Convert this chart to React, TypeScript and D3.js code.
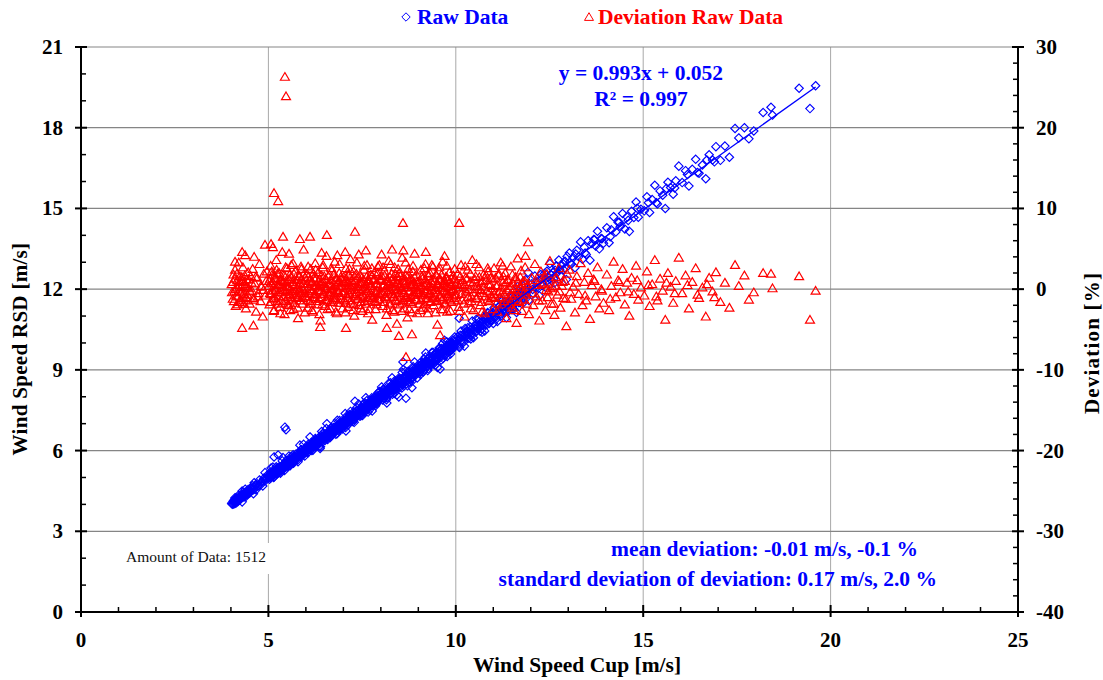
import React from "react";
import * as d3 from "d3";

// [cup wind speed m/s, deviation %] ; RSD speed = cup * (1 + dev/100)
const bin4: [number, number][] = [
  [4.02,0.6],[4.05,-1.2],[4.07,1.8],[4.09,-0.3],[4.11,2.4],[4.13,-2.1],[4.15,0.2],[4.17,1.1],[4.19,-0.9],[4.21,3.3],
  [4.23,-1.6],[4.25,0.9],[4.27,-0.4],[4.29,1.5],[4.30,-4.8],[4.32,2.7],[4.34,-1.1],[4.36,0.4],[4.38,4.2],[4.40,-2.4],
  [4.42,1.2],[4.44,-0.7],[4.46,2.1],[4.48,0.1],[4.50,-1.8],[4.53,1.6],[4.56,-0.2],[4.58,2.5],[4.61,-1.3],[4.64,0.7],
  [4.67,-2.8],[4.70,1.4],[4.73,-0.5],[4.76,3.1],[4.79,-1.5],[4.82,0.3],[4.85,-3.4],[4.88,1.9],[4.92,-0.8],[4.96,2.2],
];
const core4: [number, number][] = [
  [4.03,-0.4],[4.06,0.9],[4.08,-1.5],[4.10,1.3],[4.12,0.0],[4.14,-0.8],[4.16,1.9],[4.18,-1.9],[4.20,0.5],[4.22,-0.2],
  [4.24,1.6],[4.26,-1.3],[4.28,0.3],[4.31,1.0],[4.33,-0.6],[4.35,-1.8],[4.37,1.7],[4.39,0.6],[4.41,-1.0],[4.43,0.2],
  [4.45,-1.4],[4.47,1.2],[4.51,-0.3],[4.55,0.8],[4.60,-1.1],[4.66,1.5],[4.72,-0.9],[4.80,0.4],[4.87,-0.1],[4.94,1.0],
];
const bin5: [number, number][] = [
  [5.01,0.4],[5.03,-1.9],[5.05,1.3],[5.07,-0.6],[5.09,2.2],[5.11,-1.2],[5.13,0.8],[5.15,-2.6],[5.17,1.7],[5.19,-0.1],
  [5.21,3.6],[5.23,-1.5],[5.25,0.5],[5.27,-0.9],[5.29,2.0],[5.31,-2.2],[5.33,1.1],[5.35,-0.4],[5.37,4.6],[5.39,-1.7],
  [5.41,0.9],[5.43,-3.1],[5.45,1.5],[5.47,-0.3],[5.49,2.6],[5.51,-1.0],[5.53,0.2],[5.55,-2.0],[5.57,1.8],[5.59,-0.7],
  [5.61,3.0],[5.63,-1.4],[5.65,0.6],[5.67,-2.5],[5.69,1.2],[5.71,-0.2],[5.73,2.3],[5.75,-1.1],[5.77,0.0],[5.79,-3.6],
  [5.81,1.6],[5.84,-0.8],[5.87,2.8],[5.90,-1.8],[5.93,0.7],[5.96,-0.5],[5.98,1.4],
];
const core5: [number, number][] = [
  [5.02,1.0],[5.04,-0.5],[5.06,-1.6],[5.08,0.7],[5.10,1.8],[5.12,-0.2],[5.14,0.3],[5.16,-1.1],[5.18,1.4],[5.20,-0.8],
  [5.22,0.1],[5.24,1.9],[5.26,-1.8],[5.28,0.6],[5.30,-0.4],[5.32,1.3],[5.34,-1.3],[5.36,0.2],[5.38,1.0],[5.40,-0.9],
  [5.42,1.7],[5.44,-0.1],[5.46,-1.5],[5.48,0.8],[5.50,0.4],[5.52,-1.9],[5.54,1.2],[5.56,-0.6],[5.58,0.0],[5.60,1.5],
  [5.62,-1.2],[5.64,0.9],[5.66,-0.3],[5.68,1.9],[5.70,-1.7],[5.72,0.5],[5.74,-0.7],[5.76,1.1],[5.78,-1.0],[5.80,0.3],
  [5.82,-0.2],[5.83,1.6],[5.85,-1.4],[5.86,0.7],[5.88,-0.5],[5.89,1.2],[5.91,0.1],[5.92,-1.1],[5.94,1.8],[5.97,-0.9],
];
const bin6: [number, number][] = [
  [6.01,-0.9],[6.03,1.9],[6.05,-2.3],[6.07,0.3],[6.09,1.0],[6.11,-1.5],[6.13,2.5],[6.15,-0.2],[6.17,0.9],[6.19,-2.8],
  [6.21,1.4],[6.23,-0.6],[6.25,3.2],[6.27,-1.2],[6.29,0.5],[6.31,-1.9],[6.33,2.1],[6.35,-0.1],[6.37,1.2],[6.39,-3.9],
  [6.41,0.8],[6.43,-1.0],[6.45,2.7],[6.47,-0.4],[6.49,1.6],[6.51,-2.1],[6.53,0.1],[6.55,4.1],[6.57,-1.3],[6.59,0.6],
  [6.61,-0.7],[6.63,1.8],[6.65,-2.4],[6.67,0.4],[6.69,2.3],[6.71,-1.6],[6.73,0.2],[6.75,-0.8],[6.77,3.4],[6.79,-1.1],
  [6.81,1.1],[6.83,-3.0],[6.85,0.7],[6.87,-0.3],[6.89,2.0],[6.92,-1.7],[6.95,1.3],[6.98,-0.5],
];
const core6: [number, number][] = [
  [6.02,0.6],[6.04,-1.3],[6.06,1.5],[6.08,-0.5],[6.10,0.0],[6.12,1.2],[6.14,-1.8],[6.16,0.8],[6.18,-0.3],[6.20,1.9],
  [6.22,-1.0],[6.24,0.4],[6.26,-0.7],[6.28,1.4],[6.30,-1.5],[6.32,0.2],[6.34,1.0],[6.36,-1.2],[6.38,0.6],[6.40,-0.2],
  [6.42,1.7],[6.44,-1.9],[6.46,0.9],[6.48,-0.6],[6.50,0.3],[6.52,1.3],[6.54,-1.4],[6.56,0.1],[6.58,-0.9],[6.60,1.6],
  [6.62,-0.4],[6.64,0.7],[6.66,-1.6],[6.68,1.1],[6.70,0.0],[6.72,-1.1],[6.74,1.8],[6.76,-0.5],[6.78,0.5],[6.80,-1.3],
  [6.82,1.4],[6.84,-0.1],[6.86,-1.7],[6.88,0.9],[6.90,0.2],[6.91,-0.8],[6.93,1.5],[6.94,-1.2],[6.96,0.4],[6.99,1.0],
];
const bin7: [number, number][] = [
  [7.01,1.5],[7.03,-1.4],[7.05,0.2],[7.07,2.6],[7.09,-0.8],[7.11,0.9],[7.13,-2.2],[7.15,1.7],[7.17,-0.1],[7.19,3.7],
  [7.21,-1.8],[7.23,0.5],[7.25,-0.6],[7.27,2.2],[7.29,-3.3],[7.31,1.0],[7.33,-0.4],[7.35,1.9],[7.37,-1.2],[7.39,0.3],
  [7.41,4.3],[7.43,-2.0],[7.45,0.8],[7.47,-0.9],[7.49,1.4],[7.51,-2.7],[7.53,0.0],[7.55,2.4],[7.57,-1.5],[7.59,0.6],
  [7.61,-0.2],[7.63,3.0],[7.65,-1.1],[7.67,1.2],[7.69,-2.5],[7.71,0.4],[7.73,1.8],[7.75,-0.7],[7.77,-3.8],[7.79,1.1],
  [7.81,-1.6],[7.83,2.1],[7.85,-0.3],[7.87,0.7],[7.89,-1.9],[7.92,2.8],[7.95,-0.5],[7.98,1.3],
];
const core7: [number, number][] = [
  [7.02,-0.3],[7.04,0.8],[7.06,-1.7],[7.08,1.3],[7.10,0.1],[7.12,-1.1],[7.14,1.9],[7.16,-0.6],[7.18,0.5],[7.20,-1.4],
  [7.22,1.1],[7.24,-0.1],[7.26,0.7],[7.28,-1.9],[7.30,1.6],[7.32,-0.8],[7.34,0.3],[7.36,-0.4],[7.38,1.4],[7.40,-1.2],
  [7.42,0.6],[7.44,1.8],[7.46,-1.6],[7.48,0.0],[7.50,0.9],[7.52,-0.7],[7.54,1.2],[7.56,-1.0],[7.58,0.2],[7.60,-1.8],
  [7.62,1.5],[7.64,-0.3],[7.66,0.8],[7.68,-1.3],[7.70,1.0],[7.72,-0.5],[7.74,0.4],[7.76,1.7],[7.78,-1.1],[7.80,0.1],
  [7.82,-0.9],[7.84,1.3],[7.86,-1.5],[7.88,0.6],[7.90,-0.2],[7.91,1.9],[7.93,-1.2],[7.94,0.3],[7.96,-0.7],[7.99,1.1],
];
const bin8: [number, number][] = [
  [8.01,-0.6],[8.03,1.6],[8.05,-2.1],[8.07,0.4],[8.09,2.3],[8.11,-1.0],[8.13,0.1],[8.15,-3.2],[8.17,1.3],[8.19,-0.4],
  [8.21,3.5],[8.23,-1.7],[8.25,0.7],[8.27,-0.2],[8.29,1.9],[8.31,-2.6],[8.33,0.9],[8.35,-0.8],[8.37,2.7],[8.39,-1.3],
  [8.41,0.3],[8.43,-4.3],[8.45,1.5],[8.47,-0.5],[8.49,2.0],[8.51,-1.9],[8.53,0.6],[8.55,-0.1],[8.57,3.9],[8.59,-1.4],
  [8.61,1.0],[8.63,-2.4],[8.65,0.2],[8.67,1.7],[8.69,-0.9],[8.71,-3.5],[8.73,2.5],[8.75,-0.3],[8.77,1.2],[8.79,-1.6],
  [8.81,0.5],[8.83,-2.9],[8.85,2.2],[8.87,-0.7],[8.89,0.8],[8.92,-1.2],[8.95,1.8],[8.98,-0.4],
];
const core8: [number, number][] = [
  [8.02,1.2],[8.04,-0.4],[8.06,0.5],[8.08,-1.6],[8.10,1.7],[8.12,-0.9],[8.14,0.2],[8.16,1.0],[8.18,-1.2],[8.20,0.6],
  [8.22,-0.1],[8.24,1.5],[8.26,-1.9],[8.28,0.3],[8.30,-0.6],[8.32,1.3],[8.34,-1.0],[8.36,0.0],[8.38,1.9],[8.40,-1.5],
  [8.42,0.8],[8.44,-0.3],[8.46,1.1],[8.48,-1.3],[8.50,0.4],[8.52,1.6],[8.54,-0.8],[8.56,0.1],[8.58,-1.7],[8.60,1.4],
  [8.62,-0.5],[8.64,0.7],[8.66,-1.1],[8.68,1.0],[8.70,0.2],[8.72,-1.4],[8.74,1.8],[8.76,-0.2],[8.78,0.5],[8.80,-1.0],
  [8.82,1.2],[8.84,-1.8],[8.86,0.6],[8.88,-0.4],[8.90,1.5],[8.91,-0.7],[8.93,0.3],[8.94,-1.3],[8.96,0.9],[8.99,-0.1],
];
const bin9: [number, number][] = [
  [9.01,0.9],[9.03,-1.8],[9.05,0.1],[9.07,2.4],[9.09,-0.7],[9.11,1.3],[9.13,-2.3],[9.15,0.5],[9.17,-0.2],[9.19,3.1],
  [9.21,-1.1],[9.23,0.7],[9.25,-3.0],[9.27,1.6],[9.29,-0.5],[9.31,2.0],[9.33,-1.5],[9.35,0.3],[9.37,-0.9],[9.39,2.8],
  [9.41,-2.0],[9.43,1.0],[9.45,-0.1],[9.47,1.8],[9.49,-1.3],[9.51,-4.4],[9.53,0.6],[9.55,2.3],[9.57,-0.8],[9.59,1.2],
  [9.61,-2.5],[9.63,0.2],[9.65,3.4],[9.67,-1.0],[9.69,0.8],[9.71,-1.7],[9.73,1.5],[9.75,-0.4],[9.77,-2.8],[9.79,1.1],
  [9.81,-0.6],[9.83,2.1],[9.85,-1.4],[9.87,0.4],[9.90,-0.2],[9.93,1.7],[9.96,-1.1],[9.99,0.5],
];
const core9: [number, number][] = [
  [9.02,-0.5],[9.04,1.1],[9.06,-1.4],[9.08,0.3],[9.10,1.6],[9.12,-0.8],[9.14,0.0],[9.16,-1.9],[9.18,1.2],[9.20,-0.3],
  [9.22,0.8],[9.24,-1.2],[9.26,1.9],[9.28,-0.6],[9.30,0.4],[9.32,-1.6],[9.34,1.0],[9.36,-0.1],[9.38,0.6],[9.40,-1.1],
  [9.42,1.4],[9.44,-0.7],[9.46,0.2],[9.48,1.7],[9.50,-1.5],[9.52,0.5],[9.54,-0.4],[9.56,1.3],[9.58,-1.0],[9.60,0.1],
  [9.62,1.8],[9.64,-1.3],[9.66,0.7],[9.68,-0.2],[9.70,1.0],[9.72,-1.8],[9.74,0.4],[9.76,1.5],[9.78,-0.6],[9.80,0.2],
  [9.82,-1.2],[9.84,0.9],[9.86,-0.3],[9.88,1.3],[9.89,-1.6],[9.91,0.6],[9.92,-0.9],[9.94,0.0],[9.95,1.2],[9.98,-0.7],
];
const mid5to12: [number, number][] = [
  [5.06,2.9],[5.14,-2.7],[5.22,2.4],[5.32,-3.0],[5.46,2.7],[5.58,-2.6],[5.66,3.2],[5.78,-2.3],[5.88,2.5],[5.97,-2.9],
  [6.06,2.8],[6.16,-2.6],[6.26,2.4],[6.36,-3.1],[6.46,3.0],[6.58,-2.5],[6.68,2.6],[6.80,-2.8],[6.90,3.1],[6.97,-2.4],
  [7.06,-2.9],[7.16,2.5],[7.26,-2.6],[7.36,3.3],[7.46,-2.4],[7.56,2.9],[7.66,-3.0],[7.76,2.6],[7.86,-2.5],[7.96,3.0],
  [8.06,2.7],[8.16,-2.4],[8.26,3.1],[8.36,-2.8],[8.46,2.5],[8.56,-2.7],[8.66,3.3],[8.76,-2.5],[8.86,2.9],[8.97,-3.0],
  [9.06,-2.6],[9.16,2.6],[9.26,-2.4],[9.36,3.0],[9.46,-2.9],[9.56,2.7],[9.66,-2.5],[9.76,2.9],[9.86,-2.7],[9.97,2.5],
  [10.10,-2.7],[10.25,2.8],[10.40,-2.4],[10.55,3.1],[10.70,-2.8],[10.85,2.6],[11.00,-2.5],[11.25,2.9],[11.55,-2.6],[11.85,2.7],
];
const bin10: [number, number][] = [
  [10.02,-0.7],[10.05,1.9],[10.08,-2.2],[10.11,0.6],[10.14,3.0],[10.17,-1.3],[10.20,0.2],[10.23,-3.4],[10.26,1.4],[10.29,-0.4],
  [10.32,2.4],[10.35,-1.7],[10.38,0.9],[10.41,-0.9],[10.44,3.6],[10.47,-2.6],[10.50,0.3],[10.53,1.6],[10.56,-1.1],[10.59,0.0],
  [10.62,2.7],[10.65,-2.0],[10.68,0.8],[10.71,-0.5],[10.74,1.8],[10.77,-3.0],[10.80,1.1],[10.83,-0.2],[10.86,2.2],[10.89,-1.5],
  [10.92,0.5],[10.95,-0.8],[10.98,1.3],
];
const core10: [number, number][] = [
  [10.03,0.8],[10.06,-1.4],[10.09,0.2],[10.12,1.6],[10.15,-0.6],[10.18,1.1],[10.21,-1.8],[10.24,0.5],[10.27,-0.2],[10.30,1.3],
  [10.33,-1.0],[10.36,0.0],[10.39,1.9],[10.42,-1.5],[10.45,0.7],[10.48,-0.4],[10.51,1.2],[10.54,-1.2],[10.57,0.4],[10.60,-0.8],
  [10.63,1.5],[10.66,-0.1],[10.69,-1.6],[10.72,1.0],[10.75,0.3],[10.78,-0.9],[10.81,1.7],[10.84,-1.3],[10.87,0.6],[10.90,-0.3],
  [10.93,1.4],[10.96,-1.1],[10.99,0.1],
];
const bin11: [number, number][] = [
  [11.02,2.6],[11.05,-1.0],[11.08,0.4],[11.11,-2.8],[11.14,1.7],[11.17,-0.3],[11.20,3.3],[11.23,-1.9],[11.26,0.9],[11.29,-0.6],
  [11.32,2.0],[11.35,-3.6],[11.38,1.2],[11.41,-1.2],[11.44,0.1],[11.47,2.8],[11.50,-2.3],[11.53,0.7],[11.56,-0.8],[11.59,1.5],
  [11.62,-4.2],[11.65,3.8],[11.68,-1.5],[11.71,0.3],[11.74,2.3],[11.77,-2.7],[11.80,1.0],[11.83,-0.4],[11.86,4.1],[11.89,-1.8],
  [11.92,0.6],[11.95,-3.1],
];
const core11: [number, number][] = [
  [11.03,-0.6],[11.06,1.4],[11.09,-1.7],[11.12,0.5],[11.15,1.9],[11.18,-1.0],[11.21,0.2],[11.24,-0.4],[11.27,1.6],[11.30,-1.5],
  [11.33,0.8],[11.36,-0.1],[11.39,1.1],[11.42,-1.9],[11.45,0.4],[11.48,-0.8],[11.51,1.8],[11.54,-1.2],[11.57,0.0],[11.60,1.3],
  [11.63,-0.5],[11.66,0.9],[11.69,-1.6],[11.72,1.5],[11.75,-0.2],[11.78,0.6],[11.81,-1.3],[11.84,1.0],[11.87,-0.7],[11.90,0.3],
];
const bin12: [number, number][] = [
  [12.03,1.4],[12.07,-2.0],[12.11,3.1],[12.15,-0.9],[12.19,0.5],[12.23,-3.9],[12.27,2.2],[12.31,-1.4],[12.35,0.8],[12.39,-2.6],
  [12.43,1.9],[12.47,-0.3],[12.51,3.5],[12.55,-1.8],[12.59,0.2],[12.63,-3.2],[12.67,1.5],[12.71,-0.7],[12.75,2.6],[12.79,-2.3],
  [12.83,0.4],[12.87,-1.1],[12.91,1.0],[12.95,-4.6],
];
const core12: [number, number][] = [
  [12.05,-0.5],[12.13,1.1],[12.21,-1.4],[12.29,0.6],[12.37,1.7],[12.45,-1.0],[12.53,0.1],[12.61,-1.8],[12.69,1.3],[12.77,-0.3],
  [12.85,0.9],[12.93,-1.2],[12.97,1.9],[12.41,-0.1],[12.65,0.4],
];
const bin13: [number, number][] = [
  [13.03,2.4],[13.08,-1.2],[13.13,0.3],[13.18,-2.9],[13.23,1.6],[13.28,-0.6],[13.33,3.2],[13.38,-2.0],[13.43,0.9],[13.48,-1.4],
  [13.53,2.0],[13.58,-3.7],[13.63,0.5],[13.68,1.2],[13.73,-0.9],[13.78,2.7],[13.83,-2.4],[13.88,0.0],[13.94,-1.7],
];
const bin14: [number, number][] = [
  [14.03,1.8],[14.09,-2.6],[14.15,0.4],[14.21,3.4],[14.27,-1.0],[14.33,1.1],[14.39,-0.4],[14.45,2.5],[14.51,-1.9],[14.57,0.8],
  [14.63,-3.3],[14.69,1.4],[14.75,-0.6],[14.81,2.9],[14.87,-1.3],[14.94,0.2],
];
const bin15: [number, number][] = [
  [15.03,-0.8],[15.10,2.2],[15.17,-2.1],[15.24,0.6],[15.31,3.6],[15.38,-1.4],[15.45,1.3],[15.52,-0.2],[15.59,-3.8],[15.66,2.0],
  [15.73,0.3],[15.80,-1.7],[15.87,1.0],[15.95,3.9],
];
const bin16: [number, number][] = [
  [16.04,-0.5],[16.13,1.7],[16.22,-2.4],[16.31,0.9],[16.40,2.6],[16.49,-1.1],[16.58,0.2],[16.67,-3.4],[16.76,1.4],[16.85,-0.3],
  [16.94,2.1],
];
const core13to16: [number, number][] = [
  [13.05,-0.4],[13.20,0.8],[13.45,-0.8],[13.70,1.0],[13.90,-0.2],[14.12,-1.2],[14.36,0.9],[14.60,-0.3],[14.84,1.1],[15.14,0.5],
  [15.35,-0.9],[15.62,0.8],[15.84,-0.5],[16.18,0.5],[16.45,-0.7],[16.70,0.6],[16.90,-1.0],
];
const bin17: [number, number][] = [
  [17.06,-1.6],[17.18,0.8],[17.30,-2.3],[17.45,3.0],[17.55,0.4],[17.70,1.7],[17.82,-1.3],[17.95,-0.4],
];
const bin18: [number, number][] = [
  [18.20,2.0],[18.41,1.9],[18.45,0.1],[19.16,1.6],[19.45,-3.8],[19.60,-0.2],
];
const outliers: [number, number][] = [
  [5.44,26.3],[5.47,23.9],[5.15,11.9],[5.26,10.9],[5.39,6.5],[5.07,5.6],[6.11,6.5],[6.56,6.7],[7.31,7.1],
  [8.59,8.2],[8.60,4.8],[8.67,-8.4],[10.09,8.2],[11.93,5.8],[4.30,4.6],[4.11,3.4],[4.91,5.5],[5.12,5.2],
  [5.84,6.2],[4.60,-4.5],[6.38,-4.7],[7.07,-4.8],[8.16,-4.8],[8.48,-5.8],[8.83,-5.6],[9.58,-5.7],
  [4.62,4.0],[5.55,4.4],[5.94,4.9],[6.42,4.5],[6.84,4.2],[7.05,4.6],[7.60,4.8],[8.02,4.3],[8.30,4.9],
  [8.90,4.4],[9.20,4.6],[9.70,4.1],
];

const slope = 0.993;
const intercept = 0.052;
const xTicks = [0, 5, 10, 15, 20, 25];
const yLeftTicks = [0, 3, 6, 9, 12, 15, 18, 21];
const yRightTicks = [-40, -30, -20, -10, 0, 10, 20, 30];

const W = 1103, H = 680;
const L = 81, R = 1018, T = 47, B = 612;
const serif = "'Liberation Serif', 'Times New Roman', serif";

export default function App() {
  const all = [
    ...bin4, ...core4, ...bin5, ...core5, ...bin6, ...core6, ...bin7, ...core7, ...bin8, ...core8,
    ...bin9, ...core9, ...mid5to12, ...bin10, ...core10, ...bin11, ...core11, ...bin12, ...core12,
    ...bin13, ...bin14, ...bin15, ...bin16, ...core13to16, ...bin17, ...bin18, ...outliers,
  ];
  const x = d3.scaleLinear().domain([0, 25]).range([L, R]);
  const yL = d3.scaleLinear().domain([0, 21]).range([B, T]);
  const yR = d3.scaleLinear().domain([-40, 30]).range([B, T]);
  const raw = all.map(([c, d]) => [c, c * (1 + d / 100)] as [number, number]);
  const xMin = d3.min(all, (d) => d[0]) as number;
  const xMax = d3.max(all, (d) => d[0]) as number;
  const line = d3.line<number>().x((v) => x(v)).y((v) => yL(slope * v + intercept));
  const diamond = "M0,-4.2L4.2,0L0,4.2L-4.2,0Z";
  const tri = "M0,-4.3L4.5,3.4L-4.5,3.4Z";
  const minorX = d3.range(0, 26, 1).filter((v) => v % 5 !== 0);
  const minorL = d3.range(0, 22, 1).filter((v) => v % 3 !== 0);
  const minorR = d3.range(-40, 31, 2).filter((v) => v % 10 !== 0);
  const big = 21.5;

  return (
    <svg width={W} height={H} style={{ position: "absolute", left: 0, top: 0, background: "#fff" }} fontFamily={serif}>
      <rect x={0} y={0} width={W} height={H} fill="#fff" />
      {/* grid */}
      {xTicks.filter((v) => v > 0 && v < 25).map((v) => (
        <line key={"gx" + v} x1={x(v)} x2={x(v)} y1={T} y2={B} stroke="#a8a8a8" strokeWidth={1} />
      ))}
      {yLeftTicks.filter((v) => v > 0).map((v) => (
        <line key={"gy" + v} x1={L} x2={R} y1={yL(v)} y2={yL(v)} stroke="#858585" strokeWidth={1.2} />
      ))}
      {/* amount of data box */}
      <rect x={114} y={543} width={156} height={31} fill="#fff" />
      <text x={126} y={562} fontSize={15.5} fill="#111">Amount of Data: 1512</text>

      {/* blue raw data */}
      <g fill="none" stroke="#0000ff" strokeWidth={1.15}>
        {raw.map((d, i) => (
          <path key={"b" + i} d={diamond} transform={`translate(${x(d[0])},${yL(d[1])})`} />
        ))}
      </g>
      {/* red deviation */}
      <g fill="none" stroke="#ff0000" strokeWidth={1.2}>
        {all.map((d, i) => (
          <path key={"r" + i} d={tri} transform={`translate(${x(d[0])},${yR(d[1])})`} />
        ))}
      </g>
      {/* regression */}
      <path d={line([xMin, xMax]) || ""} stroke="#0000ff" strokeWidth={1.4} fill="none" />

      {/* axes */}
      <line x1={L} x2={L} y1={T} y2={B + 1} stroke="#000" strokeWidth={2} />
      <line x1={R} x2={R} y1={T} y2={B + 1} stroke="#000" strokeWidth={2} />
      <line x1={L - 1} x2={R + 1} y1={B} y2={B} stroke="#000" strokeWidth={2.2} />
      {xTicks.map((v) => (
        <g key={"xt" + v}>
          <line x1={x(v)} x2={x(v)} y1={B - 7} y2={B + 5} stroke="#000" strokeWidth={2} />
          <text x={x(v)} y={647} fontSize={21} fontWeight="bold" textAnchor="middle">{v}</text>
        </g>
      ))}
      {minorX.map((v) => (
        <line key={"mx" + v} x1={x(v)} x2={x(v)} y1={B - 5} y2={B} stroke="#000" strokeWidth={1.5} />
      ))}
      {yLeftTicks.map((v) => (
        <g key={"yl" + v}>
          <line x1={L - 6} x2={L + 6} y1={yL(v)} y2={yL(v)} stroke="#000" strokeWidth={2} />
          <text x={63} y={yL(v) + 7} fontSize={21} fontWeight="bold" textAnchor="end">{v}</text>
        </g>
      ))}
      {minorL.map((v) => (
        <line key={"ml" + v} x1={L} x2={L + 5} y1={yL(v)} y2={yL(v)} stroke="#000" strokeWidth={1.5} />
      ))}
      {yRightTicks.map((v) => (
        <g key={"yr" + v}>
          <line x1={R - 6} x2={R + 6} y1={yR(v)} y2={yR(v)} stroke="#000" strokeWidth={2} />
          <text x={1036} y={yR(v) + 7} fontSize={21} fontWeight="bold" textAnchor="start">{v}</text>
        </g>
      ))}
      {minorR.map((v) => (
        <line key={"mr" + v} x1={R - 5} x2={R} y1={yR(v)} y2={yR(v)} stroke="#000" strokeWidth={1.5} />
      ))}

      {/* axis titles */}
      <text x={577} y={672} fontSize={big} fontWeight="bold" textAnchor="middle">Wind Speed Cup [m/s]</text>
      <text transform={`translate(27,349) rotate(-90)`} fontSize={21} fontWeight="bold" textAnchor="middle" letterSpacing={0.3}>Wind Speed RSD [m/s]</text>
      <text transform={`translate(1099,343) rotate(-90)`} fontSize={21} fontWeight="bold" textAnchor="middle" letterSpacing={1.2}>Deviation [%]</text>

      {/* legend */}
      <path d={diamond} transform="translate(406,17)" fill="none" stroke="#0000ff" strokeWidth={1} />
      <text x={417} y={24} fontSize={big} fontWeight="bold" fill="#0000ff">Raw Data</text>
      <path d={tri} transform="translate(589,17)" fill="none" stroke="#ff0000" strokeWidth={1} />
      <text x={598} y={24} fontSize={big} fontWeight="bold" fill="#ff0000">Deviation Raw Data</text>

      {/* annotations */}
      <text x={641} y={80} fontSize={big} fontWeight="bold" fill="#0000ff" textAnchor="middle">y = 0.993x + 0.052</text>
      <text x={641} y={106} fontSize={big} fontWeight="bold" fill="#0000ff" textAnchor="middle">R² = 0.997</text>
      <text x={918} y={556} fontSize={big} fontWeight="bold" fill="#0000ff" textAnchor="end">mean deviation: -0.01 m/s, -0.1 %</text>
      <text x={937} y={586} fontSize={big} fontWeight="bold" fill="#0000ff" textAnchor="end">standard deviation of deviation: 0.17 m/s, 2.0 %</text>
    </svg>
  );
}
